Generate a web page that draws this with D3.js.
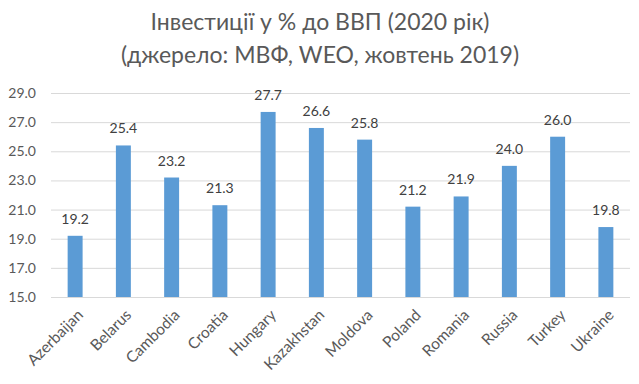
<!DOCTYPE html>
<html><head><meta charset="utf-8">
<script src="https://cdn.jsdelivr.net/npm/d3@7"></script>
<style>body{margin:0;background:#fff}svg{display:block}</style>
</head><body><svg id="c" width="639" height="384"></svg>
<script>
const categories = ["Azerbaijan","Belarus","Cambodia","Croatia","Hungary","Kazakhstan","Moldova","Poland","Romania","Russia","Turkey","Ukraine"];
const values = [19.2,25.4,23.2,21.3,27.7,26.6,25.8,21.2,21.9,24.0,26.0,19.8];
const yTicks = [15,17,19,21,23,25,27,29];
const titleLines = ["Інвестиції у % до ВВП (2020 рік)","(джерело: МВФ, WEO, жовтень 2019)"];

const svg = d3.select("#c");
const font = "Lato, 'Liberation Sans', sans-serif";
const x = d3.scaleBand().domain(categories).range([51, 630]).paddingInner(0.69).paddingOuter(0.345);
const y = d3.scaleLinear().domain([15,29]).range([297, 93]);

svg.append("g").selectAll("text").data(titleLines).join("text")
  .attr("x", 320).attr("y", (d,i)=>30 + i*33)
  .attr("text-anchor","middle").attr("font-family",font).attr("font-size",23)
  .attr("fill","#595959").text(d=>d);

const yAxis = svg.append("g").attr("transform","translate(51,0)")
  .call(d3.axisLeft(y).tickValues(yTicks).tickFormat(d3.format(".1f")).tickSize(-579).tickPadding(15));
yAxis.select(".domain").remove();
yAxis.selectAll(".tick line").attr("stroke","#d9d9d9").attr("stroke-width",1);
yAxis.selectAll(".tick text").attr("font-family",font).attr("font-size",14).attr("fill","#595959");

svg.append("g").selectAll("rect").data(values).join("rect")
  .attr("x",(d,i)=>x(categories[i])).attr("width",x.bandwidth())
  .attr("y",d=>y(d)).attr("height",d=>y(15)-y(d)).attr("fill","#5b9bd5");

svg.append("g").selectAll("text").data(values).join("text")
  .attr("x",(d,i)=>x(categories[i])+x.bandwidth()/2).attr("y",d=>y(d)-12)
  .attr("text-anchor","middle").attr("font-family",font).attr("font-size",14)
  .attr("fill","#404040").text(d=>d.toFixed(1));

const xAxis = svg.append("g").attr("transform","translate(0,297)")
  .call(d3.axisBottom(x).tickSize(0).tickPadding(0));
xAxis.select(".domain").remove();
xAxis.selectAll(".tick text")
  .attr("font-family",font).attr("font-size",15.5).attr("fill","#595959")
  .attr("text-anchor","end").attr("dy",0)
  .attr("transform","translate(9,19) rotate(-45)");
</script></body></html>
